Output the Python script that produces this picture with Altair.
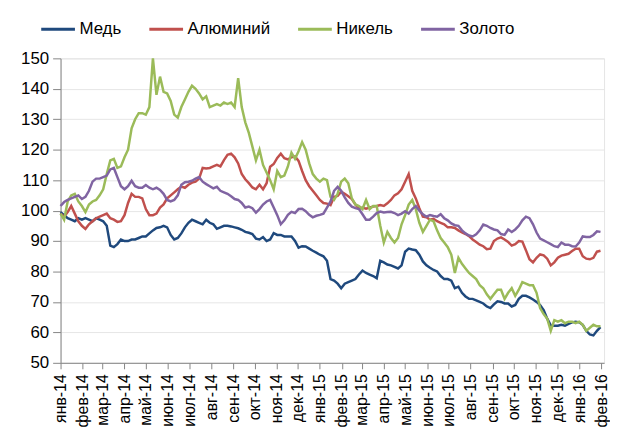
import altair as alt
import pandas as pd

series_names = ["Медь", "Алюминий", "Никель", "Золото"]
series_colors = ["#1F497D", "#C0504D", "#9BBB59", "#8064A2"]
month_labels = ["янв", "фев", "мар", "апр", "май", "июн", "июл", "авг", "сен", "окт", "ноя", "дек"]

# sampling dates (every 5 calendar days from 1 Jan 2014)
dates = pd.date_range("2014-01-01", periods=153, freq="5D")

copper = [
    99.5, 98.5, 97.5, 97, 96.5, 97.5, 97, 97.5, 97, 96.5,
    97.5, 97, 96.5, 95, 88.5, 88, 89, 90.5, 90, 90,
    90.5, 90.5, 91, 91.5, 91.5, 92.5, 93.5, 94.3, 94.5, 95,
    94.5, 92, 90.5, 91, 92.5, 94.5, 96, 97, 96.5, 96,
    95.5, 97, 96, 95.5, 94, 94.5, 95, 95, 94.8, 94.5,
    94.2, 93.7, 93, 92.7, 92.3, 90.8, 90.5, 91.3, 90, 90.5,
    92.6, 92, 92, 91.5, 91.5, 91.5, 90, 87.8, 88.3, 88.2,
    87.5, 86.8, 86.2, 85.5, 85, 83.5, 77.5, 77, 76, 74.5,
    76, 76.5, 77, 77.5, 79, 80.3, 79.5, 79, 78.5, 77.8,
    83.5, 83, 82.3, 82, 81.5, 81, 82, 86.5, 87.5, 87.2,
    87, 85.5, 83.3, 82, 81.2, 80.5, 80, 78.5, 77.5, 77.5,
    77, 74.5, 75, 73, 71.8, 71, 71, 70.5, 70, 69.5,
    68.5, 68, 69.2, 70.2, 70, 69.5, 69.5, 68.5, 69, 71,
    72, 72, 71.5, 70.8, 70, 69, 67.3, 64.5, 62.3, 62.2,
    62.2, 62.5, 62.2, 62.8, 63.3, 63.5, 63.3, 62.5, 60.5, 59.3,
    59, 60.5, 61.7,
]

aluminium = [
    99, 98, 99.5, 101.5, 99, 96.5, 95, 94, 95.5, 96.5,
    97.5, 98, 98.5, 99, 97.5, 97, 96.3, 96.5, 98.5, 102.5,
    105.5, 104.5, 104.5, 104, 100.5, 98.5, 98.5, 99, 101, 102,
    104, 105, 106, 107, 107.9, 107.5, 108.5, 109.2, 109.5, 110.5,
    114, 113.8, 114, 114.5, 115, 114.5, 116.6, 118.3, 118.7, 117.5,
    115.5, 112, 110.3, 109, 107.6, 107, 108.5, 107, 109, 114.4,
    115.3, 117.3, 118.7, 117.2, 116.8, 117.5, 117.8, 116.3, 113, 110,
    108, 106.5, 105, 103.5, 102.5, 102.3, 101.8, 104.5, 104.8, 106.2,
    105.5, 104.7, 103.8, 102, 100.6, 101, 100.6, 101, 101.3, 101.5,
    101.8, 101.5, 102.4, 103.5, 105, 105.7, 107, 109.5, 112, 106.5,
    104, 100.8, 98, 97.8, 97, 97.3, 96.5, 96, 95.5, 94.5,
    94.5, 94.3, 93.5, 92.8, 92.3, 91.6, 90.5, 89.7, 88.8, 88.3,
    87.3, 87.5, 90, 90.8, 91.2, 90.5, 89.7, 88.5, 89, 90,
    89.8, 87, 84, 83, 84.5, 85.6, 85.3, 84.2, 82, 83,
    84.5, 85.2, 85.5, 85.8, 86.7, 87.5, 87.5, 85, 84.2, 84,
    84.5, 86.5, 86.8,
]

nickel = [
    99, 97, 103, 105, 105.5, 103, 101.5, 99.5, 102, 103,
    103.5, 105, 107, 112, 116.5, 117, 114, 114.5, 117.5, 120,
    127, 130, 132, 132, 131.5, 134, 150, 138, 144, 139,
    138.5, 136, 131.5, 130.5, 134, 136.5, 139, 141, 140, 138.5,
    136.5, 137.5, 134, 134.5, 135, 134.5, 135.5, 135, 135.5, 134,
    143.5, 134, 129, 125.5, 121, 116.5, 120, 115, 112.5, 110,
    107, 113, 111, 111.5, 114.5, 119, 117, 119.5, 122.5, 120,
    115.5, 112, 110.5, 109.5, 110.5, 110, 104.5, 103.5, 105.5, 109.5,
    110.5, 109, 104, 102, 101.5, 100.5, 103.5, 100.5, 101.5, 101.5,
    95, 89.5, 93, 91, 89.5, 91, 95.5, 98.5, 102, 103.5,
    100.5, 96, 93, 95, 97, 96.5, 93.5, 91, 89.5, 88,
    85.5, 79.5, 84.5, 82.5, 81, 79.5, 78.5, 77.5, 75.5, 74.5,
    72.5, 71, 72.5, 74, 74, 71, 73, 74.5, 72, 74,
    76.5, 76, 75.5, 75.5, 73, 68, 66, 64.5, 60.5, 64,
    63.5, 64, 63, 63.5, 63.5, 63, 63.5, 62.5, 60.5, 61.5,
    62.5, 62, 62,
]

gold = [
    101.5, 102.8, 103.5, 104, 104.5, 105, 103.8, 104.5, 106.5, 109.5,
    110.5, 110.5, 111, 111.5, 113.5, 114, 111, 108, 107, 108,
    109.8, 108, 107.5, 107.5, 108.4, 107.5, 107, 107.5, 106.8, 105.5,
    103.5, 103, 103.5, 105, 108.5, 109.3, 109.5, 109.8, 110.5, 111,
    109.5, 108.7, 108, 107.3, 107.8, 106.5, 106, 105.5, 104.7, 103.8,
    103.5, 102.5, 101, 101.3, 100.8, 99.3, 100.5, 102, 103, 103.5,
    101, 98.5, 95.5, 96.8, 98.6, 99.6, 99.2, 100.5, 100.6, 99.8,
    98.6, 97.8, 98.3, 98.6, 99, 101, 103, 106.5, 107.8, 106.5,
    104.3, 102.5, 101.3, 100.8, 100.5, 98.8, 97, 97, 98, 99.2,
    99.7, 99.4, 99.5, 99.6, 99.2, 98.5, 99, 99.8, 99, 100.5,
    101.5, 100, 98.8, 98, 98.5, 98.2, 98, 98.8, 97.5, 96.8,
    95.8, 95.2, 95, 93.5, 92.5, 91.8, 91.5, 92.2, 93.5, 95.4,
    95, 94.3, 93.8, 93.5, 92.3, 92, 93.8, 93, 93.8, 95,
    96.8, 98, 97.5, 95.5, 92.8, 90.8, 90.2, 89.6, 89, 88.3,
    88, 89.5, 88.8, 88.8, 88.3, 88.2, 89.5, 91.5, 91.3, 91.3,
    92, 93.2, 93,
]

y_ticks = list(range(50, 151, 10))
tick_months = pd.date_range("2014-01-01", "2016-02-01", freq="MS")

rows = []
for name, vals in zip(series_names, [copper, aluminium, nickel, gold]):
    for d, v in zip(dates, vals):
        rows.append({"date": d.strftime("%Y-%m-%d"), "value": v, "series": name})
df = pd.DataFrame(rows)

FONT = "Liberation Sans"
month_js = "[" + ",".join("'" + m + "'" for m in month_labels) + "]"
label_expr = month_js + "[utcmonth(datum.value)] + '-' + utcFormat(datum.value, '%y')"

x_values = [alt.DateTime(year=int(d.year), month=int(d.month), date=1, utc=True) for d in tick_months]

color_scale = alt.Scale(domain=series_names, range=series_colors)

base = alt.Chart(df).encode(
    x=alt.X(
        "date:T",
        scale=alt.Scale(
            type="utc",
            domain=[alt.DateTime(year=2014, month=1, date=1, utc=True),
                    alt.DateTime(year=2016, month=2, date=5, utc=True)],
        ),
        axis=alt.Axis(
            values=x_values,
            labelExpr=label_expr,
            labelAngle=270,
            labelFontSize=16,
            labelFont=FONT,
            labelColor="#000000",
            labelPadding=5,
            tickSize=6,
            tickColor="#868686",
            domainColor="#868686",
            grid=False,
            title=None,
            labelOverlap=False,
        ),
    ),
    y=alt.Y(
        "value:Q",
        scale=alt.Scale(domain=[50, 150], nice=False, zero=False),
        axis=alt.Axis(
            values=y_ticks,
            labelFontSize=17,
            labelFont=FONT,
            labelColor="#000000",
            labelPadding=4,
            tickSize=8,
            tickColor="#868686",
            domainColor="#868686",
            grid=True,
            gridColor="#e6e6e6",
            title=None,
        ),
    ),
    color=alt.Color(
        "series:N",
        scale=color_scale,
        legend=alt.Legend(
            orient="none",
            legendX=-21,
            legendY=-48,
            direction="horizontal",
            symbolType="stroke",
            symbolSize=1156,
            symbolStrokeWidth=3,
            labelFontSize=17,
            labelFont=FONT,
            labelColor="#000000",
            labelOffset=3,
            columnPadding=21,
            title=None,
        ),
    ),
)

layers = [
    base.transform_filter(alt.datum.series == name).mark_line(strokeWidth=2.5)
    for name in series_names
]

chart = alt.layer(*layers).properties(
    width=548,
    height=307,
    padding={"left": 53, "top": 49, "right": 6, "bottom": 70},
    autosize=alt.AutoSizeParams(type="none"),
).configure_view(stroke="#e6e6e6", strokeWidth=1)

chart.save("out.html", embed_options={"renderer": "svg", "actions": False})
